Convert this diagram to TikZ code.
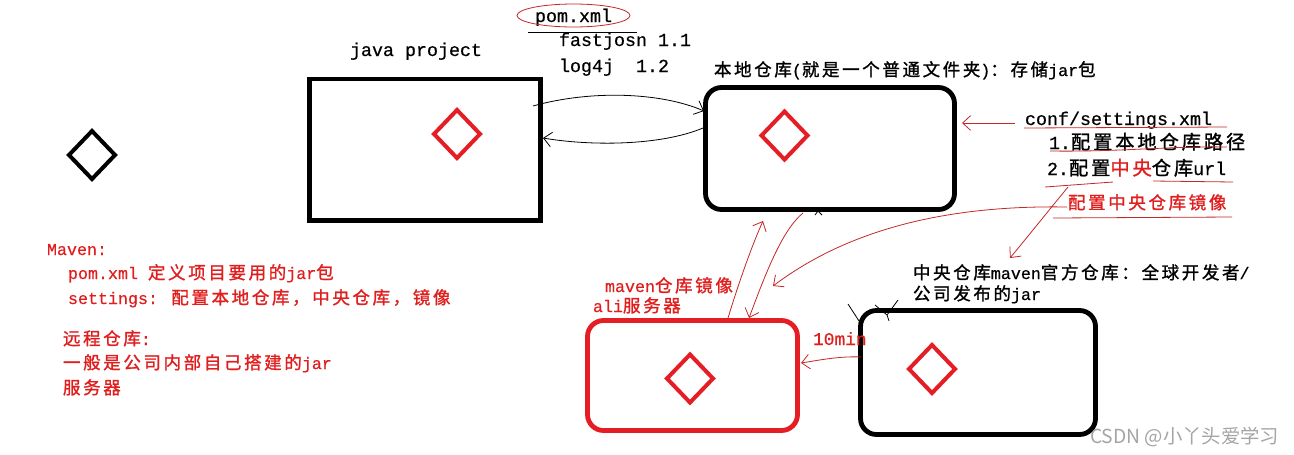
\documentclass[tikz,border=0pt]{standalone}
\usepackage{fontspec}
\setmainfont{Liberation Mono}[FakeBold=0.5]
\newfontfamily\cjk[Scale=1.05,LetterSpace=15,FakeBold=1.2]{Noto Sans CJK SC}
\newfontfamily\wmfont{Noto Sans CJK SC}
\newcommand\zh[1]{{\cjk #1}}
\usetikzlibrary{arrows.meta,shapes.geometric}
\definecolor{boxred}{RGB}{228,30,36}
\definecolor{txtred}{RGB}{225,30,30}
\definecolor{penred}{RGB}{196,40,40}
\definecolor{wmgray}{RGB}{165,165,165}
\begin{document}
\begin{tikzpicture}[x=0.75pt,y=-0.75pt,
  every node/.style={inner sep=0pt,outer sep=0pt},
  txt/.style={anchor=base west,font=\fontsize{12.5}{15}\selectfont},
  bigtxt/.style={anchor=base west,font=\fontsize{13.75}{16}\selectfont},
  rtxt/.style={txt,text=txtred},
  sqbox/.style={draw,line width=3.4pt},
  rbox/.style={draw,line width=3.6pt,rounded corners=12pt},
  dia/.style={diamond,draw,line width=3pt,minimum width=46*0.75pt,minimum height=48*0.75pt},
  thinblk/.style={line width=0.6pt},
  penline/.style={penred,line width=0.6pt},
  openarrow/.style={-{Straight Barb[length=6pt,width=11pt]}}
]
\fill[white] (0,0) rectangle (1294,454);
\useasboundingbox (0,0) rectangle (1294,454);

% boxes and diamonds
\node[sqbox, minimum width=231*0.75pt, minimum height=141.5*0.75pt] (java) at (425,149.75) {};
\node[dia,draw=boxred] (javad) at (457,134) {};
\node[dia] (lone) at (92,155) {};
\node[rbox, minimum width=249*0.75pt, minimum height=122*0.75pt] (local) at (830,148.5) {};
\node[dia,draw=boxred] (locald) at (784.5,135.5) {};
\node[rbox,draw=boxred, minimum width=210*0.75pt, minimum height=110*0.75pt] (mirror) at (692.5,375.5) {};
\node[dia,draw=boxred] (mirrord) at (690,378.5) {};
\node[rbox, minimum width=235*0.75pt, minimum height=124*0.75pt] (central) at (978,372.5) {};
\node[dia,draw=boxred] (centrald) at (932,369) {};

% top texts
\node[bigtxt] (jp) at (350,56) {java project};
\node[bigtxt] (pom) at (535,22) {pom.xml};
\node[ellipse, draw=penred, line width=0.6pt, minimum width=113*0.75pt, minimum height=23*0.75pt] (pomring) at (573.5,15.5) {};
\coordinate (ul1) at (528,32); \coordinate (ul2) at (637,32);
\draw[thinblk] (ul1) -- (ul2);
\node[bigtxt] (dep1) at (559,46) {fastjosn 1.1};
\node[bigtxt] (dep2) at (559,72) {log4j\ \ 1.2};
\node[txt] (locallabel) at (714,76) {\zh{本地仓库}(\zh{就是一个普通文件夹})\zh{：存储}jar\zh{包}};

% settings texts
\node[bigtxt] (conf) at (1025,125) {conf/settings.xml};
\node[bigtxt] (s1) at (1049,149) {1.\zh{配置本地仓库路径}};
\node[bigtxt] (s2) at (1047,175) {2.\zh{配置}{\color{txtred}\zh{中央}}\zh{仓库}url};
\node[rtxt] (s3) at (1068,209) {\zh{配置中央仓库镜像}};

% central label
\node[txt] (cl1) at (913,279) {\zh{中央仓库}maven\zh{官方仓库：全球开发者}/};
\node[txt] (cl2) at (913,300) {\zh{公司发布的}jar};

% mirror label
\node[rtxt] (ml1) at (605,292) {maven\zh{仓库镜像}};
\node[rtxt] (ml2) at (593,312) {ali\zh{服务器}};
\node[rtxt,font=\fontsize{13.4}{16}\selectfont] (tenmin) at (813,345) {10min};

% left texts
\node[rtxt] (lt1) at (47,255) {Maven:};
\node[rtxt] (lt2) at (68,279) {pom.xml \zh{定义项目要用的}jar\zh{包}};
\node[rtxt] (lt3) at (68,304) {settings: \zh{配置本地仓库，中央仓库，镜像}};
\node[rtxt] (lt4) at (63,345) {\zh{远程仓库}:};
\node[rtxt] (lt5) at (63,369) {\zh{一般是公司内部自己搭建的}jar};
\node[rtxt] (lt6) at (63,394) {\zh{服务器}};

% watermark
\node[anchor=base west,text=wmgray,font=\wmfont\fontsize{14.5}{16}\selectfont] (wm) at (1090,443) {CSDN @小丫头爱学习};

% black connectors java <-> local
\coordinate (a1s) at (533,106); \coordinate (a1e) at (704,111);
\draw[thinblk,openarrow] (a1s) .. controls (590,90) and (660,92) .. (a1e);
\coordinate (a2s) at (703,128); \coordinate (a2e) at (543,138);
\draw[thinblk,openarrow] (a2s) .. controls (660,146) and (590,146) .. (a2e);

% red pen strokes
\coordinate (c1s) at (1015,123); \coordinate (c1e) at (962,123);
\draw[penline,openarrow] (c1s) -- (c1e);
\coordinate (u1a) at (1024,128); \coordinate (u1b) at (1227,127);
\draw[penline] (u1a) -- (u1b);
\coordinate (u2a) at (1050,151); \coordinate (u2b) at (1227,147);
\draw[penline] (u2a) .. controls (1120,152) and (1170,146) .. (u2b);
\coordinate (u3a) at (1045,187); \coordinate (u3b) at (1113,182);
\draw[penline] (u3a) -- (u3b);
\coordinate (u4a) at (1153,181); \coordinate (u4b) at (1233,182);
\draw[penline] (u4a) -- (u4b);
\coordinate (u5a) at (1053,218); \coordinate (u5b) at (1232,217);
\draw[penline] (u5a) -- (u5b);

\coordinate (m1s) at (1067,207); \coordinate (m1e) at (773,286);
\draw[penline,openarrow] (m1s) .. controls (950,205) and (850,228) .. (m1e);
\coordinate (m2s) at (1068,187); \coordinate (m2e) at (1010,258);
\draw[penline,openarrow] (m2s) .. controls (1045,215) and (1025,240) .. (m2e);

\coordinate (upS) at (728,318); \coordinate (upE) at (763,221);
\draw[penline,openarrow] (upS) .. controls (738,285) and (752,245) .. (upE);
\coordinate (dnS) at (803,213); \coordinate (dnE) at (749,318);
\draw[penline,openarrow] (dnS) .. controls (782,230) and (765,275) .. (dnE);

\coordinate (tmS) at (861,357); \coordinate (tmE) at (801,363);
\draw[penline,openarrow] (tmS) .. controls (840,356) and (820,360) .. (tmE);

% stray black marks
\coordinate (k1) at (848,304); \coordinate (k2) at (859,321);
\draw[thinblk] (k1) -- (k2);
\coordinate (k3) at (875,305); \coordinate (k4) at (887,315); \coordinate (k5) at (898,300); \coordinate (k6) at (889,321);
\draw[thinblk] (k3) -- (k4) -- (k5) (k4) -- (k6);
\coordinate (k7) at (815,215); \coordinate (k8) at (818,211); \coordinate (k9) at (822,215);
\draw[thinblk] (k7) -- (k8) -- (k9);
\end{tikzpicture}
\end{document}
